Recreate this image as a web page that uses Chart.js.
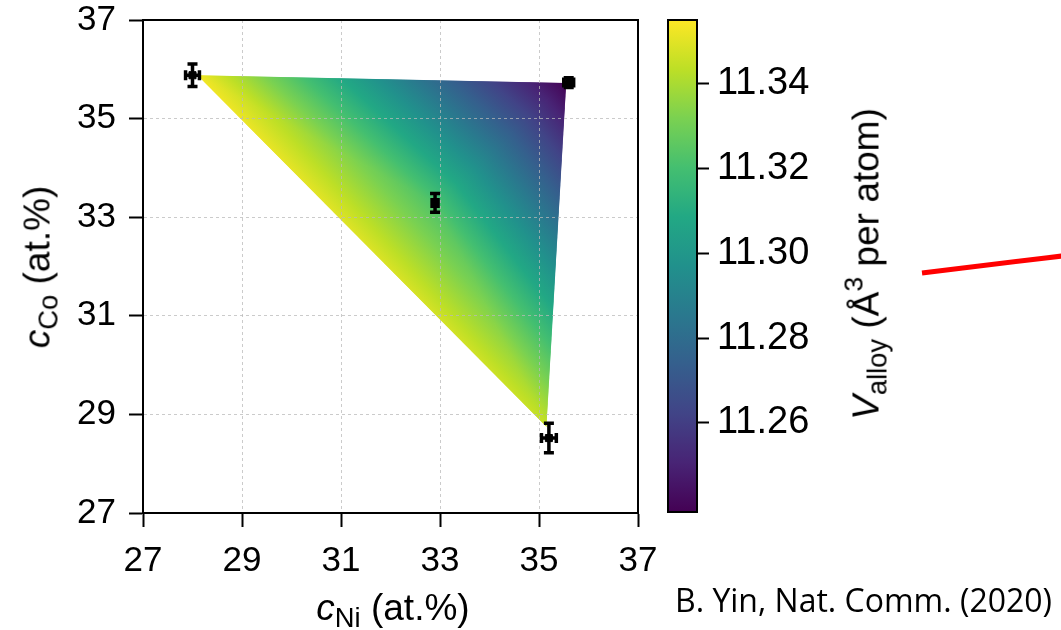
<!DOCTYPE html>
<html lang="en">
<head>
<meta charset="UTF-8">
<title>V alloy over Ni-Co composition</title>
<script src="https://cdn.jsdelivr.net/npm/chart.js"></script>
<style>
  html, body { margin: 0; padding: 0; background: #fff; }
  #wrap { position: relative; width: 1061px; height: 630px; overflow: hidden; font-family: "Liberation Sans", Arial, sans-serif; color: #000; }
  #main { position: absolute; left: 0; top: 0; }
  #cbar { position: absolute; left: 640px; top: 0; }
  .lbl { position: absolute; font-size: 37px; white-space: nowrap; line-height: 1; }
  .lbl sub { font-size: 0.74em; vertical-align: -0.28em; line-height: 0; }
  .lbl sup { font-size: 0.72em; vertical-align: 0.6em; line-height: 0; }
  #xtitle { left: 393px; top: 607px; transform: translate(-50%, -50%); }
  #ytitle { left: 37px; top: 267px; transform: translate(-50%, -50%) rotate(-90deg); }
  #ctitle { left: 866px; top: 264px; transform: translate(-50%, -50%) rotate(-90deg); }
  #cite { position: absolute; left: 675px; top: 581px; font-family: "Open Sans", sans-serif; font-size: 32px; line-height: 1.2; white-space: nowrap; }
  #arrow { position: absolute; left: 0; top: 0; }
</style>
</head>
<body>
<div id="wrap">
  <canvas id="main" width="660" height="630"></canvas>
  <canvas id="cbar" width="300" height="630"></canvas>
  <div class="lbl" id="xtitle"><i>c</i><sub>Ni</sub> (at.%)</div>
  <div class="lbl" id="ytitle"><i>c</i><sub>Co</sub> (at.%)</div>
  <div class="lbl" id="ctitle"><i>V</i><sub>alloy</sub> (Å<sup>3</sup> per atom)</div>
  <div id="cite">B. Yin, Nat. Comm. (2020)</div>
  <svg id="arrow" width="1061" height="630"><line x1="922" y1="273" x2="1062" y2="256" stroke="#ff0000" stroke-width="5"/></svg>
</div>
<script>
// measured compositions (at.%) with error bars
const cNi = [28.0, 35.6, 32.9, 35.2];
const cCo = [35.88, 35.73, 33.29, 28.52];
const errNi = [0.14, 0.1, 0.06, 0.15];
const errCo = [0.23, 0.1, 0.19, 0.3];

// shaded mesh: corner positions, their V_alloy values, and the faces
const triNi = [28.1, 35.55, 35.15, 32.9];
const triCo = [35.88, 35.72, 28.75, 33.29];
const triV = [11.353, 11.239, 11.345, 11.322];
const triFaces = [[0, 1, 3], [1, 2, 3], [2, 0, 3]];

const axisTicks = [27, 29, 31, 33, 35, 37];
const cbarTicks = [11.26, 11.28, 11.30, 11.32, 11.34];
const cbarMin = 11.239;
const cbarMax = 11.355;

const viridis = ['#440154', '#482475', '#414487', '#355f8d', '#2a788e', '#21918c',
                 '#22a884', '#44bf70', '#7ad151', '#bddf26', '#fde725'];

const tickFont = { family: 'Liberation Sans', size: 35 };

// gouraud-like shading: each face gets a linear gradient through its corners
const trianglePlugin = {
  id: 'triangle',
  beforeDraw(chart) {
    const { ctx, scales: { x, y } } = chart;
    const px = triNi.map(v => x.getPixelForValue(v));
    const py = triCo.map(v => y.getPixelForValue(v));
    const outer = [0, 1, 2];
    ctx.save();
    // clip to the outer triangle so the seam strokes do not spill outside
    ctx.beginPath();
    outer.forEach((i, n) => n ? ctx.lineTo(px[i], py[i]) : ctx.moveTo(px[i], py[i]));
    ctx.closePath();
    ctx.clip();
    triFaces.forEach(([i, j, k]) => {
      const dx1 = px[j] - px[i], dy1 = py[j] - py[i], dv1 = triV[j] - triV[i];
      const dx2 = px[k] - px[i], dy2 = py[k] - py[i], dv2 = triV[k] - triV[i];
      const det = dx1 * dy2 - dx2 * dy1;
      const a = (dv1 * dy2 - dv2 * dy1) / det;
      const b = (dx1 * dv2 - dx2 * dv1) / det;
      const g2 = a * a + b * b;
      const t0 = (cbarMin - triV[i]) / g2, t1 = (cbarMax - triV[i]) / g2;
      const grad = ctx.createLinearGradient(px[i] + t0 * a, py[i] + t0 * b, px[i] + t1 * a, py[i] + t1 * b);
      viridis.forEach((c, n) => grad.addColorStop(n / (viridis.length - 1), c));
      ctx.beginPath();
      ctx.moveTo(px[i], py[i]);
      ctx.lineTo(px[j], py[j]);
      ctx.lineTo(px[k], py[k]);
      ctx.closePath();
      ctx.fillStyle = grad;
      ctx.strokeStyle = grad;
      ctx.lineWidth = 1.5;
      ctx.fill();
      ctx.stroke();
    });
    ctx.restore();
  }
};

const errorBarPlugin = {
  id: 'errorBars',
  afterDatasetsDraw(chart) {
    const { ctx, scales: { x, y } } = chart;
    ctx.save();
    ctx.strokeStyle = '#000';
    ctx.lineWidth = 3.5;
    const cap = 5;
    cNi.forEach((n, i) => {
      const cx = x.getPixelForValue(n), cy = y.getPixelForValue(cCo[i]);
      const y0 = y.getPixelForValue(cCo[i] - errCo[i]), y1 = y.getPixelForValue(cCo[i] + errCo[i]);
      const x0 = x.getPixelForValue(n - errNi[i]), x1 = x.getPixelForValue(n + errNi[i]);
      ctx.beginPath();
      ctx.moveTo(cx, y0); ctx.lineTo(cx, y1);
      ctx.moveTo(cx - cap, y0); ctx.lineTo(cx + cap, y0);
      ctx.moveTo(cx - cap, y1); ctx.lineTo(cx + cap, y1);
      ctx.moveTo(x0, cy); ctx.lineTo(x1, cy);
      ctx.moveTo(x0, cy - cap); ctx.lineTo(x0, cy + cap);
      ctx.moveTo(x1, cy - cap); ctx.lineTo(x1, cy + cap);
      ctx.stroke();
    });
    ctx.restore();
  }
};

const framePlugin = {
  id: 'frame',
  afterDraw(chart) {
    const { ctx, chartArea: ca } = chart;
    ctx.save();
    ctx.strokeStyle = '#000';
    ctx.lineWidth = 2;
    ctx.strokeRect(ca.left, ca.top, ca.right - ca.left, ca.bottom - ca.top);
    ctx.restore();
  }
};

const noEdgePad = s => { s.paddingTop = 0; s.paddingBottom = 0; s.paddingLeft = 0; s.paddingRight = 0; };

new Chart(document.getElementById('main'), {
  type: 'scatter',
  data: {
    datasets: [{
      data: cNi.map((n, i) => ({ x: n, y: cCo[i] })),
      backgroundColor: '#000',
      borderColor: '#000',
      pointStyle: 'rect',
      pointRadius: 5,
      pointHoverRadius: 5
    }]
  },
  options: {
    responsive: false,
    animation: false,
    events: [],
    layout: { padding: { left: 0, top: 20, right: 22, bottom: 0 } },
    plugins: { legend: { display: false }, tooltip: { enabled: false } },
    scales: {
      x: {
        type: 'linear', min: 27, max: 37,
        afterBuildTicks: s => { s.ticks = axisTicks.map(v => ({ value: v })); },
        afterFit: s => { s.height = 117; noEdgePad(s); },
        ticks: { font: tickFont, color: '#000', padding: 13, maxRotation: 0 },
        grid: { color: 'rgba(185,185,185,0.75)', lineWidth: 1, tickLength: 14, tickColor: '#000', tickWidth: 2 },
        border: { color: '#000', width: 2, dash: [3, 3] }
      },
      y: {
        type: 'linear', min: 27, max: 37,
        afterBuildTicks: s => { s.ticks = axisTicks.map(v => ({ value: v })); },
        afterFit: s => { s.width = 143; noEdgePad(s); },
        ticks: { font: tickFont, color: '#000', padding: 13 },
        grid: { color: 'rgba(185,185,185,0.75)', lineWidth: 1, tickLength: 14, tickColor: '#000', tickWidth: 2 },
        border: { color: '#000', width: 2, dash: [3, 3] }
      }
    }
  },
  plugins: [trianglePlugin, errorBarPlugin, framePlugin]
});

// colorbar
const cbarFillPlugin = {
  id: 'cbarFill',
  beforeDraw(chart) {
    const { ctx, chartArea: ca } = chart;
    const grad = ctx.createLinearGradient(0, ca.bottom, 0, ca.top);
    viridis.forEach((c, i) => grad.addColorStop(i / (viridis.length - 1), c));
    ctx.save();
    ctx.fillStyle = grad;
    ctx.fillRect(ca.left, ca.top, ca.right - ca.left, ca.bottom - ca.top);
    ctx.restore();
  }
};

new Chart(document.getElementById('cbar'), {
  type: 'scatter',
  data: { datasets: [{ data: [] }] },
  options: {
    responsive: false,
    animation: false,
    events: [],
    layout: { padding: { left: 28, top: 20, right: 0, bottom: 118 } },
    plugins: { legend: { display: false }, tooltip: { enabled: false } },
    scales: {
      x: { type: 'linear', display: false, min: 0, max: 1 },
      y: {
        type: 'linear', position: 'right', min: cbarMin, max: cbarMax,
        afterBuildTicks: s => { s.ticks = cbarTicks.map(v => ({ value: v })); },
        afterFit: s => { s.width = 243; noEdgePad(s); },
        ticks: { font: { family: 'Liberation Sans', size: 38 }, color: '#000', padding: 8, callback: v => v.toFixed(2) },
        grid: { drawOnChartArea: false, tickLength: 12, tickColor: '#000', tickWidth: 2 },
        border: { color: '#000', width: 2 }
      }
    }
  },
  plugins: [cbarFillPlugin, framePlugin]
});
</script>
</body>
</html>
